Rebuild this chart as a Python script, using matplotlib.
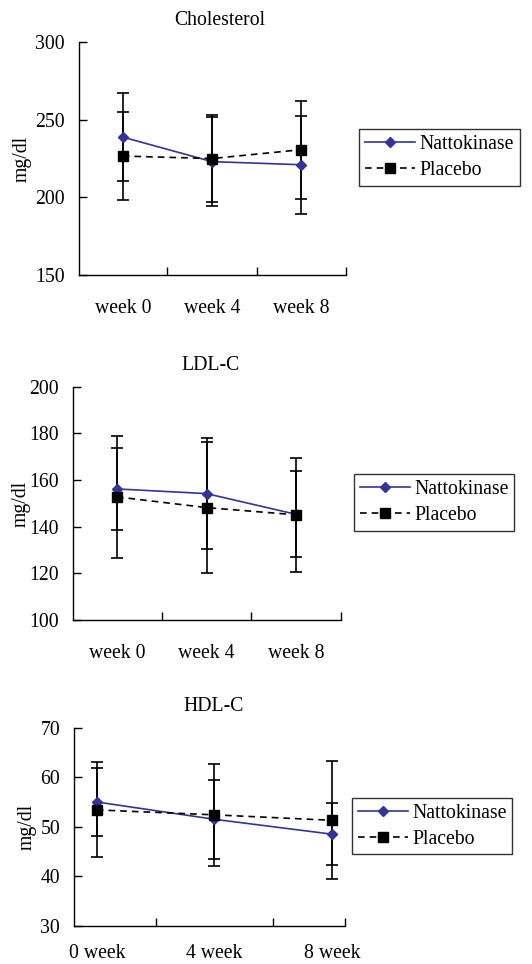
import matplotlib.pyplot as plt
import numpy as np

plt.rcParams['font.family'] = ['Liberation Serif', 'DejaVu Serif']
plt.rcParams['font.size'] = 14.2

# values (mean and SD error bars)
week_labels = ['week 0', 'week 4', 'week 8']
week_labels_hdl = ['0 week', '4 week', '8 week']
weeks_hdl = [0, 4, 8]

chol_natto = [238.8, 223.0, 221.0]
chol_natto_sd = [28.2, 28.5, 31.4]
chol_placebo = [226.6, 225.0, 230.7]
chol_placebo_sd = [28.4, 28.0, 31.5]

ldl_natto = [156.2, 154.2, 145.3]
ldl_natto_sd = [17.6, 23.8, 18.4]
ldl_placebo = [152.8, 148.2, 145.1]
ldl_placebo_sd = [26.1, 28.0, 24.4]

hdl_natto = [55.0, 51.5, 48.5]
hdl_natto_sd = [6.9, 8.0, 6.3]
hdl_placebo = [53.4, 52.4, 51.3]
hdl_placebo_sd = [9.6, 10.3, 11.9]

NAVY = '#333399'

fig = plt.figure(figsize=(5.32, 9.64), dpi=100)


def draw_panel(rect, title, title_x, x, labels, natto, natto_sd, plac, plac_sd,
               ylim, ystep, xlim, tick_marks, ylab_x, legend_at, xpad=17):
    ax = fig.add_axes(rect)
    ax.errorbar(x, natto, yerr=natto_sd, fmt='none', ecolor='black',
                elinewidth=1.2, capsize=4, capthick=1.2, zorder=2)
    ax.errorbar(x, plac, yerr=plac_sd, fmt='none', ecolor='black',
                elinewidth=1.2, capsize=4, capthick=1.2, zorder=2)
    ax.plot(x, natto, color=NAVY, lw=1.2, marker='D', ms=5,
            label='Nattokinase', zorder=3)
    ax.plot(x, plac, color='black', lw=1.2, ls=(0, (4, 3)), marker='s', ms=7,
            label='Placebo', zorder=3)

    ax.set_xlim(*xlim)
    ax.set_ylim(*ylim)
    ax.set_yticks(np.arange(ylim[0], ylim[1] + 0.1, ystep))
    ax.set_xticks(tick_marks)
    ax.set_xticklabels([])
    ax.set_xticks(x, minor=True)
    ax.set_xticklabels(labels, minor=True)
    ax.tick_params(axis='x', which='major', direction='in', length=6, width=1)
    ax.tick_params(axis='x', which='minor', length=0, pad=xpad)
    ax.tick_params(axis='y', direction='in', length=6, width=1, pad=10)

    for side in ['top', 'right']:
        ax.spines[side].set_visible(False)
    for side in ['left', 'bottom']:
        ax.spines[side].set_linewidth(1)

    ax.set_title(title, x=title_x, pad=12, fontsize=14.2)
    ax.set_ylabel('mg/dl')
    ax.yaxis.set_label_coords(ylab_x, 0.5)

    leg = ax.legend(loc='upper left', bbox_to_anchor=legend_at,
                    bbox_transform=fig.transFigure, frameon=True,
                    fancybox=False, edgecolor='black', handlelength=2.55,
                    handletextpad=0.2, borderpad=0.3, labelspacing=0.35,
                    borderaxespad=0)
    leg.get_frame().set_linewidth(1.0)
    return ax


cat = np.arange(len(week_labels))

draw_panel([0.1485, 0.7147, 0.502, 0.2417], 'Cholesterol', 0.528, cat, week_labels,
           chol_natto, chol_natto_sd, chol_placebo, chol_placebo_sd,
           (150, 300), 50, (-0.49, 2.5), [0.5, 1.5, 2.5], -0.176, (0.675, 0.8662))

draw_panel([0.1372, 0.3568, 0.5038, 0.242], 'LDL-C', 0.515, cat, week_labels,
           ldl_natto, ldl_natto_sd, ldl_placebo, ldl_placebo_sd,
           (100, 200), 20, (-0.49, 2.5), [0.5, 1.5, 2.5], -0.157, (0.6654, 0.5083))

draw_panel([0.139, 0.0397, 0.509, 0.2054], 'HDL-C', 0.517, weeks_hdl, week_labels_hdl,
           hdl_natto, hdl_natto_sd, hdl_placebo, hdl_placebo_sd,
           (30, 70), 10, (-0.78, 8.44), [2, 6, 8.44], -0.137, (0.6617, 0.1725),
           xpad=13)

fig.savefig('out.png', dpi=100)
